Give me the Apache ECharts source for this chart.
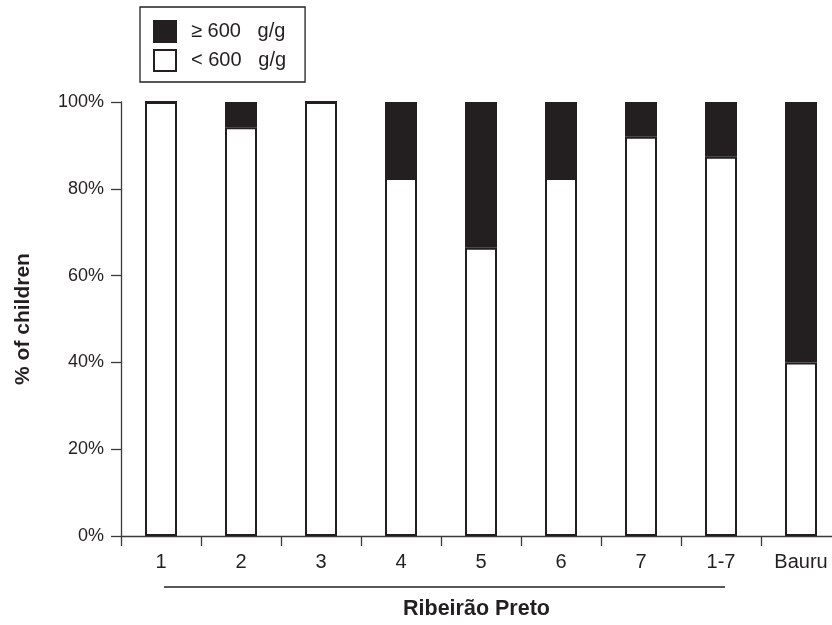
<!DOCTYPE html>
<html>
<head>
<meta charset="utf-8">
<script src="https://cdn.jsdelivr.net/npm/echarts@6/dist/echarts.min.js"></script>
<style>
html,body{margin:0;padding:0;background:#fff;overflow:hidden;}
#chart{width:850px;height:625px;}
</style>
</head>
<body>
<div id="chart"></div>
<script>
var categories = ['1', '2', '3', '4', '5', '6', '7', '1-7', 'Bauru'];
var below600 = [100, 94.2, 100, 82.5, 66.4, 82.5, 92.0, 87.4, 40.0];
var above600 = [0, 5.8, 0, 17.5, 33.6, 17.5, 8.0, 12.6, 60.0];
var yTicks = [0, 20, 40, 60, 80, 100];
var groupName = 'Ribeirão Preto';
var groupFrom = '1', groupTo = '1-7';
var legendAbove = '≥ 600   g/g';
var legendBelow = '< 600   g/g';

var FONT = "'Liberation Sans', Arial, Helvetica, sans-serif";
var INK = '#231f20';
var AXIS = '#3a3a3a';

var chart = echarts.init(document.getElementById('chart'), null, {renderer: 'canvas'});
var option = {
  backgroundColor: '#ffffff',
  animation: false,
  textStyle: {fontFamily: FONT},
  grid: {left: 121, top: 102, width: 720, height: 438, containLabel: false},
  legend: {
    orient: 'vertical',
    left: 140, top: 7,
    padding: [13, 19, 10, 13],
    borderColor: INK, borderWidth: 1.3,
    itemWidth: 22, itemHeight: 21, itemGap: 6,
    icon: 'rect',
    data: [legendAbove, legendBelow],
    textStyle: {fontSize: 20, color: INK, fontFamily: FONT, padding: [0, 0, 0, 10]}
  },
  xAxis: {
    type: 'category',
    data: categories,
    name: groupName,
    nameLocation: 'middle',
    nameGap: 62,
    nameTextStyle: {fontSize: 21.5, fontWeight: 'bold', color: INK, fontFamily: FONT, padding: [0, 9, 0, 0]},
    axisLine: {lineStyle: {color: AXIS, width: 1.3}},
    axisTick: {show: true, length: 10, lineStyle: {color: AXIS, width: 1.3}, alignWithLabel: false},
    axisLabel: {fontSize: 20, color: INK, margin: 16, fontFamily: FONT},
    splitLine: {show: false}
  },
  yAxis: {
    type: 'value',
    min: yTicks[0], max: yTicks[yTicks.length - 1], interval: yTicks[1] - yTicks[0],
    name: '% of children',
    nameLocation: 'middle',
    nameRotate: 90,
    nameGap: 87,
    nameTextStyle: {fontSize: 21, fontWeight: 'bold', color: INK, fontFamily: FONT},
    axisLine: {show: true, lineStyle: {color: AXIS, width: 1.3}},
    axisTick: {show: true, length: 10, lineStyle: {color: AXIS, width: 1.3}},
    axisLabel: {fontSize: 18, color: INK, margin: 17, fontFamily: FONT, formatter: '{value}%'},
    splitLine: {show: false}
  },
  series: [
    {
      name: legendBelow, type: 'bar', stack: 'total', barWidth: 32,
      data: below600,
      itemStyle: {color: '#ffffff', borderColor: INK, borderWidth: 2}
    },
    {
      name: legendAbove, type: 'bar', stack: 'total', barWidth: 32,
      data: above600,
      itemStyle: {color: INK, borderColor: INK, borderWidth: 2}
    }
  ]
};
chart.setOption(option);

var p1 = chart.convertToPixel({xAxisIndex: 0, yAxisIndex: 0}, [groupFrom, 0]);
var p2 = chart.convertToPixel({xAxisIndex: 0, yAxisIndex: 0}, [groupTo, 0]);
chart.setOption({
  graphic: [{
    type: 'line',
    shape: {x1: p1[0] + 3, y1: p1[1] + 51, x2: p2[0] + 4, y2: p2[1] + 51},
    style: {stroke: INK, lineWidth: 1.5}
  }]
});
</script>
</body>
</html>
